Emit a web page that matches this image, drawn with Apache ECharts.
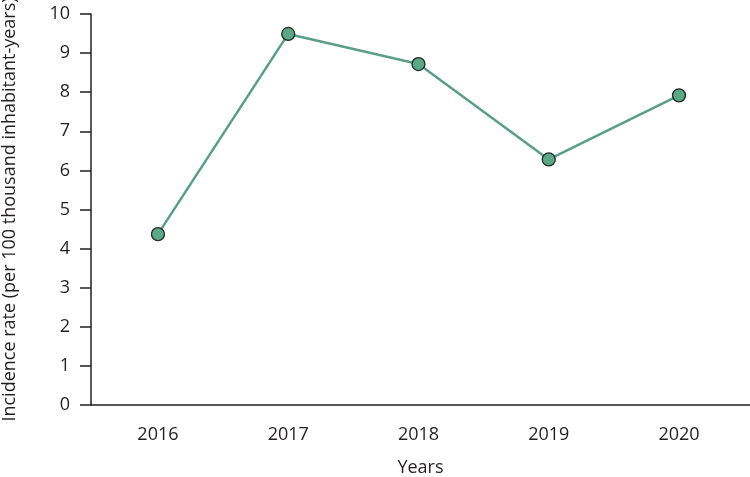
<!DOCTYPE html>
<html>
<head>
<meta charset="utf-8">
<script src="https://cdn.jsdelivr.net/npm/echarts@6/dist/echarts.min.js"></script>
<style>html,body{margin:0;padding:0;background:#fff}#c{width:750px;height:477px}</style>
</head>
<body>
<div id="c"></div>
<script>
const years = [2016, 2017, 2018, 2019, 2020];
const rates = [4.37, 9.49, 8.72, 6.28, 7.92];
const yTicks = [0, 1, 2, 3, 4, 5, 6, 7, 8, 9, 10];

const font = 'Open Sans';
const ink = '#231f20';
const chart = echarts.init(document.getElementById('c'), null, {renderer: 'canvas'});
chart.setOption({
  animation: false,
  grid: {left: 91, right: 0, top: 14, bottom: 72, containLabel: false, outerBoundsMode: 'none'},
  xAxis: {
    type: 'value',
    min: 2015.486,
    max: 2020.545,
    name: 'Years',
    nameLocation: 'middle',
    nameGap: 54,
    nameTextStyle: {fontFamily: font, fontSize: 18, color: ink},
    axisLine: {show: true, lineStyle: {color: ink, width: 1.5}},
    axisTick: {show: false},
    splitLine: {show: false},
    axisLabel: {
      customValues: years,
      formatter: v => String(v),
      fontFamily: font, fontSize: 18, color: ink, margin: 21
    }
  },
  yAxis: {
    type: 'value',
    min: 0, max: 10, interval: 1,
    name: 'Incidence rate (per 100 thousand inhabitant-years)',
    nameLocation: 'middle',
    nameGap: 72,
    nameTextStyle: {fontFamily: font, fontSize: 18, color: ink},
    axisLine: {show: true, lineStyle: {color: ink, width: 1.5}},
    axisTick: {show: true, inside: false, length: 11, lineStyle: {color: ink, width: 1.5}},
    splitLine: {show: false},
    axisLabel: {
      customValues: yTicks,
      fontFamily: font, fontSize: 18, color: ink, margin: 21
    }
  },
  series: [{
    type: 'line',
    data: years.map((y, i) => [y, rates[i]]),
    symbol: 'circle',
    symbolSize: 13,
    lineStyle: {color: '#5b9e85', width: 2.5},
    itemStyle: {color: '#5aa888', borderColor: '#1e2a24', borderWidth: 1.3}
  }]
});
</script>
</body>
</html>
